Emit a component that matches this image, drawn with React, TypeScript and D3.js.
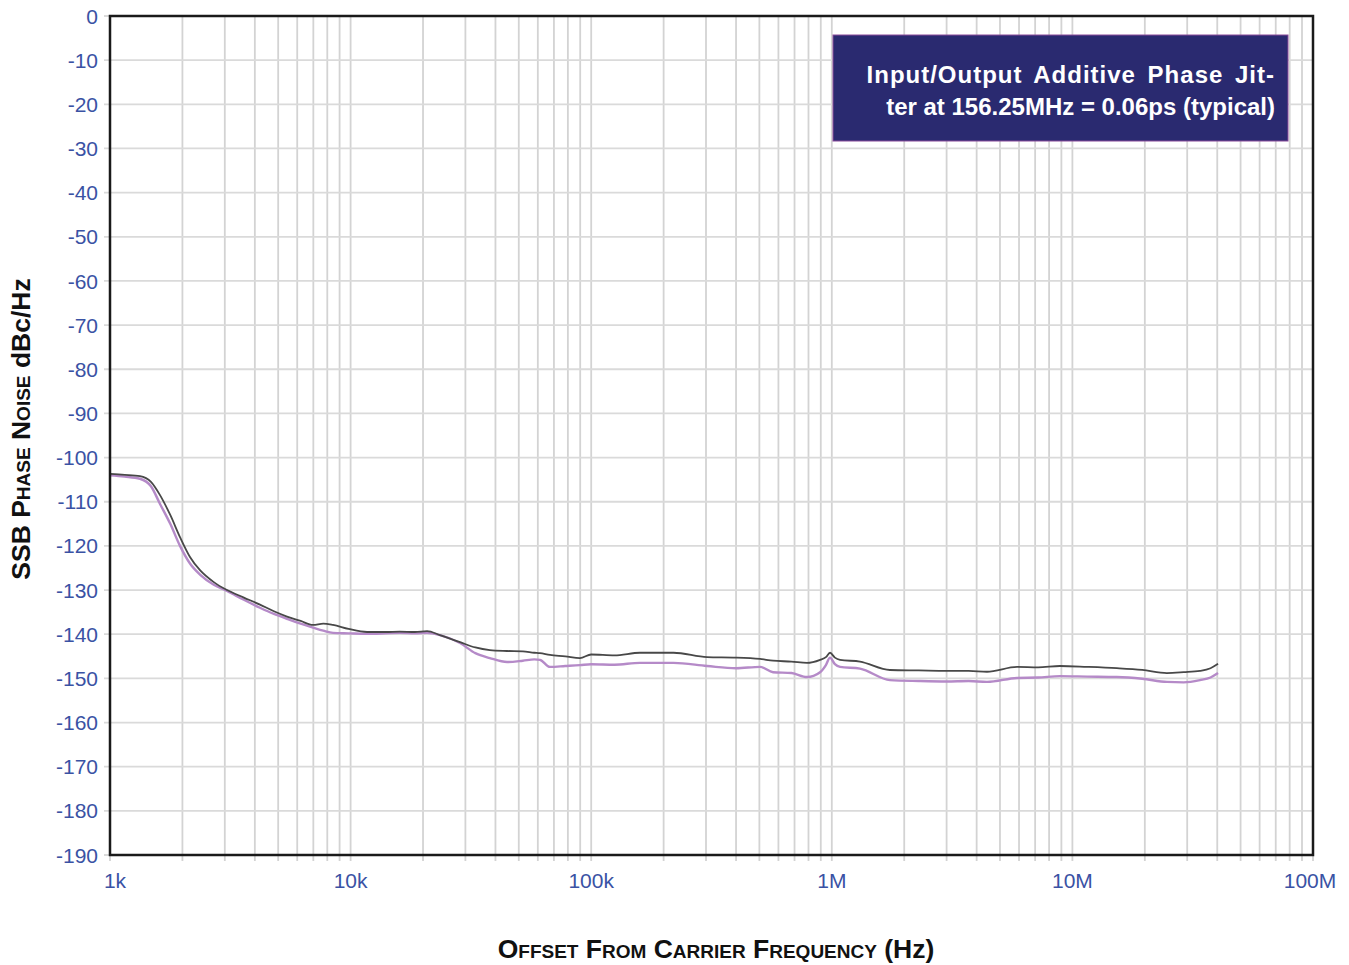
import React from "react";
import * as d3 from "d3";

const W = 1349;
const H = 965;

const yTicks = [0, -10, -20, -30, -40, -50, -60, -70, -80, -90, -100, -110, -120, -130, -140, -150, -160, -170, -180, -190];
const xTickValues = [1e3, 1e4, 1e5, 1e6, 1e7, 1e8];
const xTickLabels = ["1k", "10k", "100k", "1M", "10M", "100M"];

const freqs = [1000, 1150, 1332, 1480, 1614, 1780, 1954, 2150, 2366, 2700, 3064, 3600, 4200, 4800, 5440, 6200, 6980, 7700, 8450, 9800, 11700, 14000, 16000, 18500, 20800, 23500, 28500, 33000, 37900, 44700, 52000, 58000, 61200, 67400, 78000, 89800, 100000, 125000, 159500, 220000, 303000, 400000, 503000, 570000, 680000, 789000, 894000, 945000, 983000, 1030000, 1082000, 1310000, 1745000, 2300000, 3000000, 3700000, 4416000, 5890000, 7200000, 8880000, 11500000, 15300000, 19500000, 24700000, 29000000, 33900000, 37500000, 40300000];

const blackDb = [-103.7, -103.9, -104.2, -105.5, -108.5, -113.0, -118.0, -122.5, -125.5, -128.2, -130.0, -131.7, -133.3, -134.8, -136.0, -137.0, -137.9, -137.6, -137.9, -138.8, -139.5, -139.5, -139.4, -139.5, -139.3, -140.2, -141.8, -143.0, -143.6, -143.8, -143.9, -144.2, -144.3, -144.7, -145.0, -145.4, -144.6, -144.8, -144.2, -144.2, -145.2, -145.3, -145.6, -146.0, -146.2, -146.5, -145.8, -145.2, -144.2, -145.3, -145.8, -146.2, -148.1, -148.2, -148.3, -148.3, -148.5, -147.4, -147.5, -147.2, -147.4, -147.7, -148.1, -148.8, -148.6, -148.3, -147.7, -146.7];

const purpleDb = [-104.0, -104.3, -104.8, -106.5, -110.5, -115.0, -120.0, -124.0, -126.5, -128.8, -130.2, -132.2, -134.0, -135.4, -136.5, -137.6, -138.5, -139.2, -139.7, -139.8, -139.9, -139.8, -139.7, -139.8, -139.7, -140.2, -142.0, -144.3, -145.4, -146.3, -146.0, -145.7, -145.8, -147.4, -147.2, -147.0, -146.8, -146.9, -146.5, -146.5, -147.2, -147.7, -147.4, -148.6, -148.8, -149.7, -148.6, -147.0, -145.3, -146.8, -147.4, -147.8, -150.4, -150.6, -150.7, -150.6, -150.8, -149.9, -149.8, -149.5, -149.6, -149.7, -150.1, -150.8, -150.9, -150.4, -149.8, -148.8];

const left = 110;
const right = 1313;
const top = 16;
const bottom = 855;

export default function App() {
  const x = d3.scaleLog().domain([1e3, 1e8]).range([left, right]);
  const y = d3.scaleLinear().domain([0, -190]).range([top, bottom]);

  const minorX: number[] = [];
  for (let dec = 3; dec < 8; dec++) {
    for (let m = 1; m <= 9; m++) minorX.push(m * Math.pow(10, dec));
  }
  minorX.push(1e8);

  const line = d3
    .line<number>()
    .x((_, i) => x(freqs[i]))
    .y((d) => y(d))
    .curve(d3.curveMonotoneX);

  const blue = "#3a52a4";
  const font = "'Liberation Sans', Arial, Helvetica, sans-serif";
  const sc = { fontVariant: "small-caps" } as React.CSSProperties;

  return (
    <svg width={W} height={H} style={{ position: "absolute", left: 0, top: 0, background: "#fff" }} fontFamily={font}>
      {/* grid */}
      {minorX.map((f, i) => (
        <line key={"vx" + i} x1={x(f)} x2={x(f)} y1={top} y2={bottom + 6} stroke="#d3d3d3" strokeWidth={1.8} />
      ))}
      {yTicks.map((t) => (
        <line key={"hy" + t} x1={left - 6} x2={right} y1={y(t)} y2={y(t)} stroke="#dadada" strokeWidth={1.8} />
      ))}
      {/* curves */}
      <path d={line(purpleDb) || ""} fill="none" stroke="#b58ac8" strokeWidth={2.4} />
      <path d={line(blackDb) || ""} fill="none" stroke="#484848" strokeWidth={1.8} />
      {/* frame */}
      <rect x={left} y={top} width={right - left} height={bottom - top} fill="none" stroke="#1a1a1a" strokeWidth={2.5} />
      {/* y tick labels */}
      {yTicks.map((t) => (
        <text key={"yl" + t} x={98} y={y(t)} dy="0.36em" textAnchor="end" fontSize={21} fill={blue}>
          {String(t)}
        </text>
      ))}
      {/* x tick labels */}
      {xTickValues.map((f, i) => (
        <text key={"xl" + i} x={x(f) + (i === 0 ? 5 : i === 5 ? -3 : 0)} y={888} textAnchor="middle" fontSize={21} fill={blue}>
          {xTickLabels[i]}
        </text>
      ))}
      {/* annotation box */}
      <rect x={833} y={35} width={455} height={106} fill="#2a2a70" stroke="#8a4a9a" strokeWidth={1} />
      <text x={1275} y={83} textAnchor="end" fontSize={24} fontWeight="bold" fill="#fff" letterSpacing={1} wordSpacing={4}>
        Input/Output Additive Phase Jit-
      </text>
      <text x={1275} y={115} textAnchor="end" fontSize={24} fontWeight="bold" fill="#fff">
        ter at 156.25MHz = 0.06ps (typical)
      </text>
      {/* axis titles */}
      <text transform={`translate(30, 429) rotate(-90)`} textAnchor="middle" fontSize={26.5} fontWeight="bold" fill="#111">
        SSB <tspan style={sc}>Phase Noise</tspan> dBc/Hz
      </text>
      <text x={716} y={958} textAnchor="middle" fontSize={26.5} fontWeight="bold" fill="#111">
        <tspan style={sc}>Offset From Carrier Frequency</tspan> (Hz)
      </text>
    </svg>
  );
}
